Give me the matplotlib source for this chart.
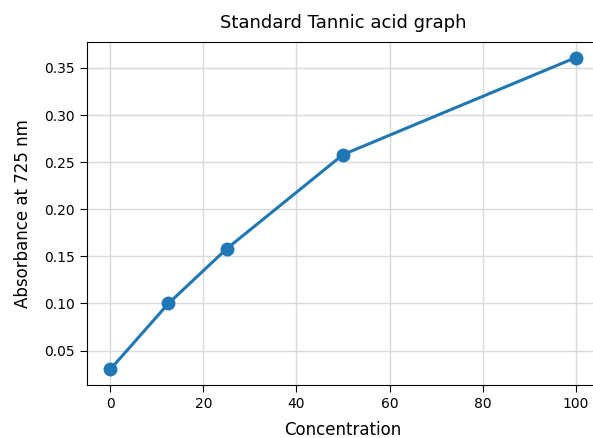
import matplotlib.pyplot as plt

# standard curve readings
concentration = [0, 12.5, 25, 50, 100]
absorbance = [0.030, 0.100, 0.158, 0.258, 0.361]

W, H = 593, 438
fig = plt.figure(figsize=(W / 100, H / 100), dpi=100)
# axes runs past the right edge, like the cropped original
ax = fig.add_axes([87 / W, 1 - 385 / H, 512 / W, 343 / H])

ax.plot(concentration, absorbance, marker='o', markersize=9, linewidth=2.2, color='#1f77b4')
ax.grid(True, color='#d9d9d9', linewidth=1)
ax.set_axisbelow(True)

ax.set_title('Standard Tannic acid graph', fontsize=13, pad=10)
ax.set_xlabel('Concentration', fontsize=12, labelpad=7)
ax.set_ylabel('Absorbance at 725 nm', fontsize=12, labelpad=9)
ax.tick_params(labelsize=10, length=5)
ax.set_yticks([0.05, 0.10, 0.15, 0.20, 0.25, 0.30, 0.35])
ax.set_xticks([0, 20, 40, 60, 80, 100])

fig.savefig('out.png', dpi=100)
